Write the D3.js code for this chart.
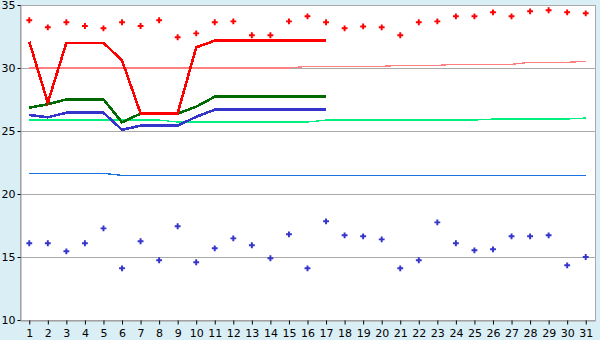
<!DOCTYPE html>
<html>
<head>
<meta charset="utf-8">
<script src="https://cdn.jsdelivr.net/npm/d3@7"></script>
<style>
  body { margin: 0; background: #daeef6; }
  svg { display: block; }
  .tick text { font-family: "DejaVu Sans", sans-serif; font-size: 11px; fill: #000; }
</style>
</head>
<body>
<svg id="chart" width="600" height="340"></svg>
<script>
var width = 600;
var height = 340;

const days = d3.range(1, 32);
const yTicks = [10, 15, 20, 25, 30, 35];

// daily max / min dots
const maxDots = [33.79, 33.23, 33.63, 33.33, 33.15, 33.63, 33.33, 33.79, 32.44, 32.75,
  33.63, 33.7, 32.6, 32.6, 33.7, 34.1, 33.63, 33.15, 33.3, 33.23,
  32.6, 33.63, 33.7, 34.1, 34.1, 34.42, 34.1, 34.5, 34.58, 34.42, 34.34];
const minDots = [16.09, 16.09, 15.45, 16.09, 17.27, 14.1, 16.25, 14.74, 17.44, 14.58,
  15.69, 16.48, 15.93, 14.9, 16.8, 14.1, 17.83, 16.72, 16.64, 16.4,
  14.1, 14.74, 17.75, 16.09, 15.53, 15.61, 16.64, 16.64, 16.72, 14.34, 15.0];

// thick lines, first 17 days
const redLine = [32.09, 27.25, 32.0, 32.0, 32.0, 30.6, 26.4, 26.4, 26.4, 31.64,
  32.17, 32.17, 32.17, 32.17, 32.17, 32.17, 32.17];
const greenLine = [26.85, 27.12, 27.51, 27.51, 27.51, 25.69, 26.38, 26.38, 26.38, 26.93,
  27.72, 27.72, 27.72, 27.72, 27.72, 27.72, 27.72];
const blueLine = [26.27, 26.09, 26.45, 26.45, 26.45, 25.1, 25.42, 25.42, 25.42, 26.13,
  26.69, 26.69, 26.69, 26.69, 26.69, 26.69, 26.69];

// thin lines, whole month
const pinkLine = [30.0, 30.0, 30.0, 30.0, 30.0, 30.0, 30.0, 30.0, 30.0, 30.0,
  30.0, 30.0, 30.0, 30.0, 30.0, 30.13, 30.13, 30.13, 30.13, 30.13,
  30.21, 30.21, 30.21, 30.29, 30.29, 30.29, 30.29, 30.45, 30.45, 30.45, 30.53];
const mintLine = [25.87, 25.87, 25.87, 25.87, 25.87, 25.87, 25.87, 25.87, 25.71, 25.71,
  25.71, 25.71, 25.71, 25.71, 25.71, 25.71, 25.87, 25.87, 25.87, 25.87,
  25.87, 25.87, 25.87, 25.87, 25.87, 25.95, 25.95, 25.95, 25.95, 25.95, 26.03];
const skyLine = [21.64, 21.64, 21.64, 21.64, 21.64, 21.48, 21.48, 21.48, 21.48, 21.48,
  21.48, 21.48, 21.48, 21.48, 21.48, 21.48, 21.48, 21.48, 21.48, 21.48,
  21.48, 21.48, 21.48, 21.48, 21.48, 21.48, 21.48, 21.48, 21.48, 21.48, 21.48];

const margin = {top: 5, right: 5, bottom: 20, left: 20};
const x = d3.scaleLinear([0.5, 31.5], [margin.left, width - margin.right]);
const y = d3.scaleLinear([10, 35], [height - margin.bottom, margin.top]);

const svg = d3.select('#chart');

// plot area
svg.append('rect')
  .attr('x', margin.left + 0.5).attr('y', margin.top + 0.5)
  .attr('width', width - margin.right - margin.left)
  .attr('height', height - margin.bottom - margin.top)
  .attr('fill', '#fff')
  .attr('stroke', '#aaa');

// grid
svg.append('g').selectAll('line')
  .data(yTicks.slice(1, -1))
  .join('line')
    .attr('x1', margin.left).attr('x2', width - margin.right)
    .attr('y1', d => Math.round(y(d)) + 0.5).attr('y2', d => Math.round(y(d)) + 0.5)
    .attr('stroke', '#aaa');

function drawLine(values, color, w) {
  svg.append('path')
    .datum(values)
    .attr('fill', 'none')
    .attr('stroke', color)
    .attr('stroke-width', w)
    .attr('shape-rendering', 'crispEdges')
    .attr('d', d3.line()
      .x((d, i) => x(days[i]))
      .y(d => y(d)));
}

drawLine(pinkLine, '#ff8080', 1.3);
drawLine(mintLine, '#00f080', 1.3);
drawLine(skyLine, '#1a73e0', 1.3);
drawLine(blueLine, '#3535cc', 2.6);
drawLine(greenLine, '#006a00', 2.6);
drawLine(redLine, '#ff0000', 2.6);

function drawDots(values, color) {
  svg.append('g').selectAll('path')
    .data(values)
    .join('path')
      .attr('transform', (d, i) => `translate(${x(days[i])},${y(d)})`)
      .attr('d', d3.symbol(d3.symbolCross, 19))
      .attr('fill', color);
}

drawDots(maxDots, '#ff0000');
drawDots(minDots, '#3535cc');

// axes
const yAxis = svg.append('g')
  .attr('transform', `translate(${margin.left + 0.5},0)`)
  .call(d3.axisLeft(y).tickValues(yTicks).tickSize(3).tickPadding(2).tickSizeOuter(0));
yAxis.select('.domain').attr('stroke', '#999');
yAxis.selectAll('.tick line').attr('stroke', '#000');

const xAxis = svg.append('g')
  .attr('transform', `translate(0,${height - margin.bottom + 0.5})`)
  .call(d3.axisBottom(x).tickValues(days).tickFormat(d3.format('d')).tickSize(4).tickPadding(5).tickSizeOuter(0));
xAxis.select('.domain').attr('stroke', '#999');
xAxis.selectAll('.tick line').attr('stroke', '#000');
</script>
</body>
</html>
